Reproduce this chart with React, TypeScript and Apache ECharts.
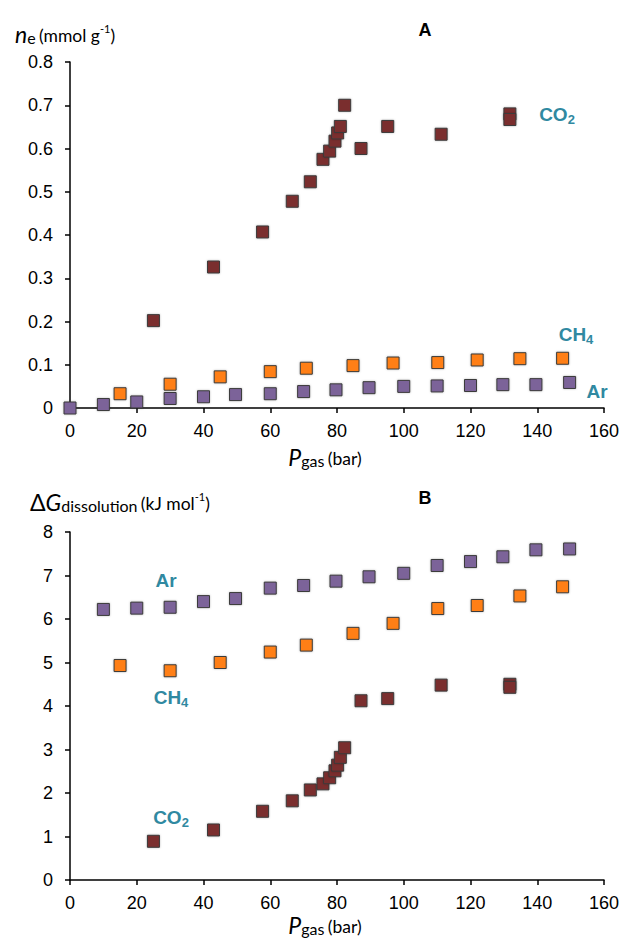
import React, { useEffect, useRef } from 'react';
import * as echarts from 'echarts';

// Pressure (bar) for each gas
const pressureCO2 = [25, 43, 57.7, 66.6, 72, 75.8, 77.8, 79.4, 80.2, 81, 82.3, 87.2, 95.2, 111.2, 131.8, 131.8];
const pressureCH4 = [15, 30, 45, 60, 70.8, 84.8, 96.8, 110.2, 122, 134.8, 147.6];
const pressureAr = [0, 10, 20, 30, 40, 49.6, 60, 70, 79.7, 89.6, 100, 110, 120, 129.7, 139.6, 149.7];

// Panel A: excess amount n_e (mmol g-1)
const neCO2 = [0.202, 0.326, 0.407, 0.478, 0.523, 0.575, 0.594, 0.617, 0.636, 0.651, 0.7, 0.6, 0.651, 0.633, 0.68, 0.667];
const neCH4 = [0.033, 0.055, 0.072, 0.084, 0.092, 0.098, 0.104, 0.105, 0.111, 0.114, 0.115];
const neAr = [0, 0.008, 0.014, 0.022, 0.026, 0.031, 0.033, 0.038, 0.042, 0.047, 0.05, 0.051, 0.052, 0.054, 0.054, 0.059];

// Panel B: ΔG dissolution (kJ mol-1)
const dgCO2 = [0.89, 1.15, 1.58, 1.82, 2.07, 2.21, 2.35, 2.51, 2.64, 2.82, 3.04, 4.12, 4.17, 4.48, 4.5, 4.43];
const dgCH4 = [4.93, 4.81, 5.0, 5.24, 5.4, 5.67, 5.9, 6.24, 6.31, 6.53, 6.74];
const pressureArB = pressureAr.slice(1);
const dgAr = [6.22, 6.25, 6.27, 6.4, 6.47, 6.71, 6.77, 6.87, 6.97, 7.05, 7.23, 7.32, 7.43, 7.59, 7.61];

const xTicks = { min: 0, max: 160, interval: 20 };
const yTicksA = { min: 0, max: 0.8, interval: 0.1 };
const yTicksB = { min: 0, max: 8, interval: 1 };

const COL_CO2 = '#7a2f2f';
const COL_CH4 = '#ff7f12';
const COL_AR = '#7c6399';
const TEAL = '#3089a1';
const TICK_FONT = '"Liberation Sans", Arial, sans-serif';
const TITLE_FONT = 'Lato, "Noto Sans", sans-serif';

const zip = (xs: number[], ys: number[]) => xs.map((x, i) => [x, ys[i]]);

const axisCommon = {
  type: 'value' as const,
  axisLine: { show: true, onZero: false, lineStyle: { color: '#000', width: 1.5 } },
  axisTick: { show: true, inside: false, length: 5, lineStyle: { color: '#000', width: 1.5 } },
  splitLine: { show: false },
};

const xAxisFor = (gridIndex: number) => ({
  ...axisCommon,
  gridIndex,
  ...xTicks,
  axisLabel: { color: '#000', fontSize: 18, fontFamily: TICK_FONT, margin: 14 },
});

const scatter = (name: string, x: number, y: number, data: number[][], color: string) => ({
  name,
  type: 'scatter' as const,
  xAxisIndex: x,
  yAxisIndex: y,
  symbol: 'rect',
  symbolSize: 12,
  data,
  itemStyle: {
    color,
    borderColor: '#3a3a3a',
    borderWidth: 1,
    shadowBlur: 2,
    shadowColor: 'rgba(0,0,0,0.25)',
    opacity: 1,
  },
  emphasis: { disabled: true },
});

const gasRich = {
  b: { fontSize: 19, fontWeight: 'bold', fontFamily: TICK_FONT, fill: TEAL, lineHeight: 24, verticalAlign: 'middle' },
  s: { fontSize: 13, fontWeight: 'bold', fontFamily: TICK_FONT, fill: TEAL, lineHeight: 12, verticalAlign: 'bottom' },
};

const gasLabel = (txt: string, x: number, y: number) => ({
  type: 'text' as const,
  style: { text: txt, x, y, textAlign: 'center', verticalAlign: 'middle', fill: TEAL, rich: gasRich },
  z: 100,
});

const axisTitleRich = {
  i: { fontSize: 23, fontStyle: 'italic', fontFamily: TITLE_FONT, fill: '#000', lineHeight: 22, verticalAlign: 'middle' },
  g: { fontSize: 23, fontFamily: TITLE_FONT, fill: '#000', lineHeight: 22, verticalAlign: 'middle' },
  s: { fontSize: 16, fontFamily: TITLE_FONT, fill: '#000', lineHeight: 10, verticalAlign: 'bottom' },
  n: { fontSize: 17.5, fontFamily: TITLE_FONT, fill: '#000', lineHeight: 22, verticalAlign: 'middle', padding: [2, 0, 0, 0] },
  sup: { fontSize: 11, fontFamily: TITLE_FONT, fill: '#000', lineHeight: 12, verticalAlign: 'top' },
};

const option = {
  animation: false,
  backgroundColor: '#fff',
  grid: [
    { left: 70, top: 62, width: 534, height: 346 },
    { left: 70, top: 532, width: 534, height: 348 },
  ],
  xAxis: [xAxisFor(0), xAxisFor(1)],
  yAxis: [
    {
      ...axisCommon,
      gridIndex: 0,
      ...yTicksA,
      axisLabel: {
        color: '#000', fontSize: 18, fontFamily: TICK_FONT, margin: 17,
        formatter: (v: number) => (v === 0 ? '0' : v.toFixed(1)),
      },
    },
    {
      ...axisCommon,
      gridIndex: 1,
      ...yTicksB,
      axisLabel: { color: '#000', fontSize: 18, fontFamily: TICK_FONT, margin: 17 },
    },
  ],
  series: [
    scatter('Ar', 0, 0, zip(pressureAr, neAr), COL_AR),
    scatter('CH4', 0, 0, zip(pressureCH4, neCH4), COL_CH4),
    scatter('CO2', 0, 0, zip(pressureCO2, neCO2), COL_CO2),
    scatter('Ar', 1, 1, zip(pressureArB, dgAr), COL_AR),
    scatter('CH4', 1, 1, zip(pressureCH4, dgCH4), COL_CH4),
    scatter('CO2', 1, 1, zip(pressureCO2, dgCO2), COL_CO2),
  ],
  graphic: [
    // panel letters
    { type: 'text', style: { text: 'A', x: 425, y: 30, textAlign: 'center', verticalAlign: 'middle', font: `bold 18px ${TICK_FONT}`, fill: '#000' } },
    { type: 'text', style: { text: 'B', x: 425, y: 498, textAlign: 'center', verticalAlign: 'middle', font: `bold 18px ${TICK_FONT}`, fill: '#000' } },
    // y-axis titles
    {
      type: 'text',
      style: { text: '{i|n}{s|e} {n|(mmol g}{sup|-1}{n|)}', x: 15, y: 34, textAlign: 'left', verticalAlign: 'middle', rich: axisTitleRich },
    },
    {
      type: 'text',
      style: { text: '{g|Δ}{i|G}{s|dissolution} {n|(kJ mol}{sup|-1}{n|)}', x: 30, y: 502, textAlign: 'left', verticalAlign: 'middle', rich: axisTitleRich },
    },
    // x-axis titles
    {
      type: 'text',
      style: { text: '{i|P}{s|gas} {n|(bar)}', x: 325, y: 457, textAlign: 'center', verticalAlign: 'middle', rich: axisTitleRich },
    },
    {
      type: 'text',
      style: { text: '{i|P}{s|gas} {n|(bar)}', x: 325, y: 925, textAlign: 'center', verticalAlign: 'middle', rich: axisTitleRich },
    },
    // series labels, panel A
    gasLabel('{b|CO}{s|2}', 557, 114),
    gasLabel('{b|CH}{s|4}', 576, 334),
    gasLabel('{b|Ar}', 597, 391),
    // series labels, panel B
    gasLabel('{b|Ar}', 166, 580),
    gasLabel('{b|CH}{s|4}', 171, 697),
    gasLabel('{b|CO}{s|2}', 171, 817),
  ],
};

export default function App() {
  const ref = useRef<HTMLDivElement>(null);
  useEffect(() => {
    if (!ref.current) return;
    const chart = echarts.init(ref.current, null, { renderer: 'svg' });
    chart.setOption(option as any);
    return () => chart.dispose();
  }, []);
  return (
    <div
      ref={ref}
      style={{ position: 'absolute', left: 0, top: 0, width: 624, height: 940, background: '#fff' }}
    />
  );
}
